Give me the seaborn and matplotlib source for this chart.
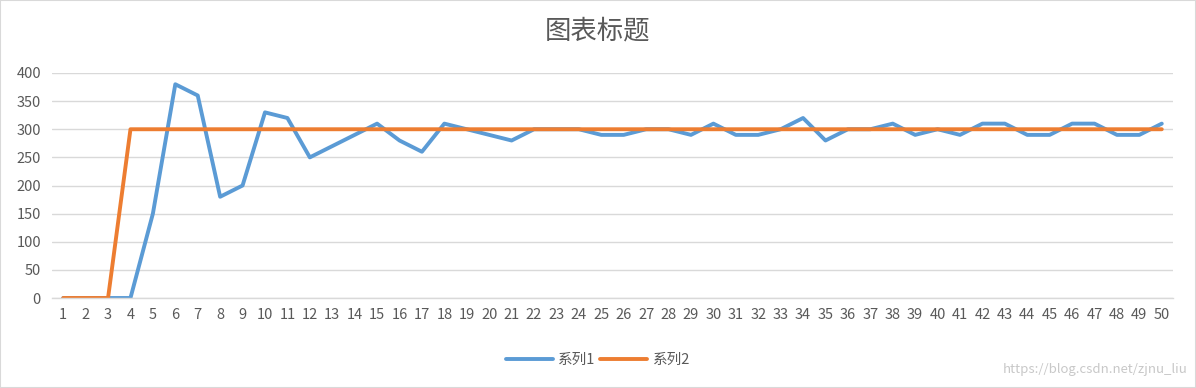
import matplotlib
matplotlib.use("Agg")
import matplotlib.pyplot as plt
import seaborn as sns
import pandas as pd
from matplotlib.lines import Line2D
from matplotlib.patches import Rectangle

categories = list(range(1, 51))
series1 = [0, 0, 0, 0, 150, 380, 360, 180, 200, 330,
           320, 250, 270, 290, 310, 280, 260, 310, 300, 290,
           280, 300, 300, 300, 290, 290, 300, 300, 290, 310,
           290, 290, 300, 320, 280, 300, 300, 310, 290, 300,
           290, 310, 310, 290, 290, 310, 310, 290, 290, 310]
series2 = [0, 0, 0] + [300] * 47
series_names = ["系列1", "系列2"]
title = "图表标题"
yticks = [0, 50, 100, 150, 200, 250, 300, 350, 400]

sns.set_theme(style="white")
plt.rcParams['font.family'] = ['Noto Sans CJK SC', 'DejaVu Sans']

df = pd.DataFrame({
    "x": categories * 2,
    "y": series1 + series2,
    "s": [series_names[0]] * len(categories) + [series_names[1]] * len(categories),
})
colors = {series_names[0]: "#5B9BD5", series_names[1]: "#ED7D31"}

fig = plt.figure(figsize=(11.96, 3.88), dpi=100)
ax = fig.add_axes([52 / 1196, 1 - 298 / 388, (1173 - 52) / 1196, (298 - 73) / 388])
sns.lineplot(data=df, x="x", y="y", hue="s", palette=colors, linewidth=2.8,
             ax=ax, legend=False, sort=False)

ax.set_xlim(0.5, 50.5)
ax.set_ylim(0, 400)
ax.set_xticks(categories)
ax.set_xticklabels([str(c) for c in categories])
ax.set_yticks(yticks)
ax.grid(axis="y", color="#D9D9D9", linewidth=1)
ax.set_axisbelow(True)
for sp in ["top", "right", "left"]:
    ax.spines[sp].set_visible(False)
ax.spines["bottom"].set_color("#D9D9D9")
ax.spines["bottom"].set_linewidth(1)
ax.tick_params(axis="both", length=0, labelsize=10.5, labelcolor="#595959")
ax.tick_params(axis="x", pad=7)
ax.tick_params(axis="y", pad=8)
ax.set_xlabel("")
ax.set_ylabel("")

fig.text(0.5, 1 - 31 / 388, title, ha="center", va="center", fontsize=19, color="#595959")

handles = [Line2D([0], [0], color=colors[n], linewidth=2.8) for n in series_names]
fig.legend(handles, series_names, loc="center", bbox_to_anchor=(0.5, 1 - 360 / 388),
           ncol=2, frameon=False, fontsize=10.5, labelcolor="#595959",
           handlelength=3.2, columnspacing=0.3, handletextpad=0.4)

fig.text(1 - 8 / 1196, 1 - 370 / 388, "https://blog.csdn.net/zjnu_liu", ha="right", va="center",
         fontsize=9.5, color="#C8C8C8")

fig.patches.append(Rectangle((0, 0), 1, 1, transform=fig.transFigure, fill=False,
                             edgecolor="#D9D9D9", linewidth=1.5))

fig.savefig("out.png", dpi=100, facecolor="white")
